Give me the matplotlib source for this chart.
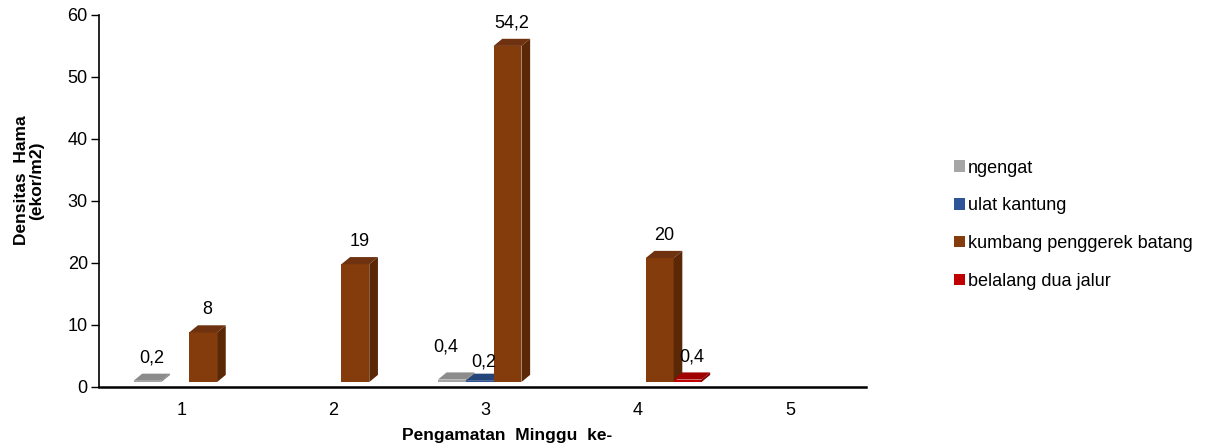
import matplotlib
matplotlib.use("Agg")
import matplotlib.pyplot as plt
from matplotlib.patches import Polygon, Patch

plt.rcParams['font.family'] = ['Liberation Sans', 'DejaVu Sans']

# ─────────────────────────────────────────────
# DATA
# ─────────────────────────────────────────────
weeks      = [1, 2, 3, 4, 5]
ngengat    = [0.2, 0, 0.4, 0, 0]
ulat       = [0, 0, 0.2, 0, 0]
kumbang    = [8, 19, 54.2, 20, 0]
belalang   = [0, 0, 0, 0.4, 0]
series_lbl = ["ngengat", "ulat kantung", "kumbang penggerek batang",
              "belalang dua jalur"]

# front / top / side colours per series
COLORS = [
    ("#A6A6A6", "#8C8C8C", "#7F7F7F"),
    ("#2E5597", "#24457A", "#1C3660"),
    ("#843C0C", "#6E3210", "#5A2806"),
    ("#C00000", "#A00000", "#800000"),
]

BAR_W  = 0.183     # bar width (category units)
SHIFT  = 0.053     # 3D projection shift of the groups
FLOOR  = 0.8       # 3D floor lift (data units)
DX     = 0.057     # depth offset x
DY     = 1.15      # depth offset y

# label nudges (series index, week) -> (dx, dy) to avoid overlaps
NUDGE = {(0, 3): (-0.07, 1.6), (1, 3): (0.0, -0.6)}


def fmt(v):
    return f"{v:g}".replace(".", ",")


def draw_bar3d(ax, x, v, cols, nudge=(0, 0)):
    front, top, side = cols
    x0, x1 = x - BAR_W / 2, x + BAR_W / 2
    y0, y1 = FLOOR, FLOOR + v
    ax.bar(x, v, width=BAR_W, bottom=FLOOR, color=front,
           linewidth=0, zorder=3)
    ax.add_patch(Polygon([(x0, y1), (x1, y1), (x1 + DX, y1 + DY),
                          (x0 + DX, y1 + DY)], closed=True,
                         facecolor=top, linewidth=0, zorder=3))
    ax.add_patch(Polygon([(x1, y0), (x1 + DX, y0 + DY),
                          (x1 + DX, y1 + DY), (x1, y1)], closed=True,
                         facecolor=side, linewidth=0, zorder=3))
    ax.text(x + DX / 2 + nudge[0], y1 + DY + 1.1 + nudge[1], fmt(v),
            ha="center", va="bottom", fontsize=13, zorder=4)


fig = plt.figure(figsize=(12.07, 4.44), dpi=100)
ax = fig.add_axes([0.082, 0.1284, 0.6355, 0.838])

all_series = [ngengat, ulat, kumbang, belalang]
offsets = [(i - 1.5) * BAR_W for i in range(len(all_series))]

for s_idx, vals in enumerate(all_series):
    for w, v in zip(weeks, vals):
        if v <= 0:
            continue
        draw_bar3d(ax, w + SHIFT + offsets[s_idx], v, COLORS[s_idx],
                   NUDGE.get((s_idx, w), (0, 0)))

ax.set_xlim(0.46, 5.5)
ax.set_ylim(0, 60)
ax.set_yticks(range(0, 61, 10))
ax.set_xticks(weeks)
ax.tick_params(axis="x", length=0, pad=11, labelsize=13)
ax.tick_params(axis="y", length=6, width=1, pad=2, labelsize=13,
               direction="out")
for sp in ["top", "right"]:
    ax.spines[sp].set_visible(False)
ax.spines["left"].set_linewidth(1.2)
ax.spines["bottom"].set_linewidth(1.8)

ax.set_ylabel("Densitas  Hama\n(ekor/m2)", fontsize=12.5, fontweight="bold",
              linespacing=1.0)
ax.yaxis.set_label_coords(-0.072, 0.555)
ax.set_xlabel("Pengamatan  Minggu  ke-", fontsize=12.5, fontweight="bold")
ax.xaxis.set_label_coords(0.532, -0.11)

handles = [Patch(facecolor=c[0], edgecolor="none") for c in COLORS]
fig.legend(handles, series_lbl, loc="center left",
           bbox_to_anchor=(0.777, 0.494), frameon=False, fontsize=13,
           handlelength=0.6, handleheight=0.6, handletextpad=0.15,
           labelspacing=1.15)

fig.savefig("out.png", dpi=100)
